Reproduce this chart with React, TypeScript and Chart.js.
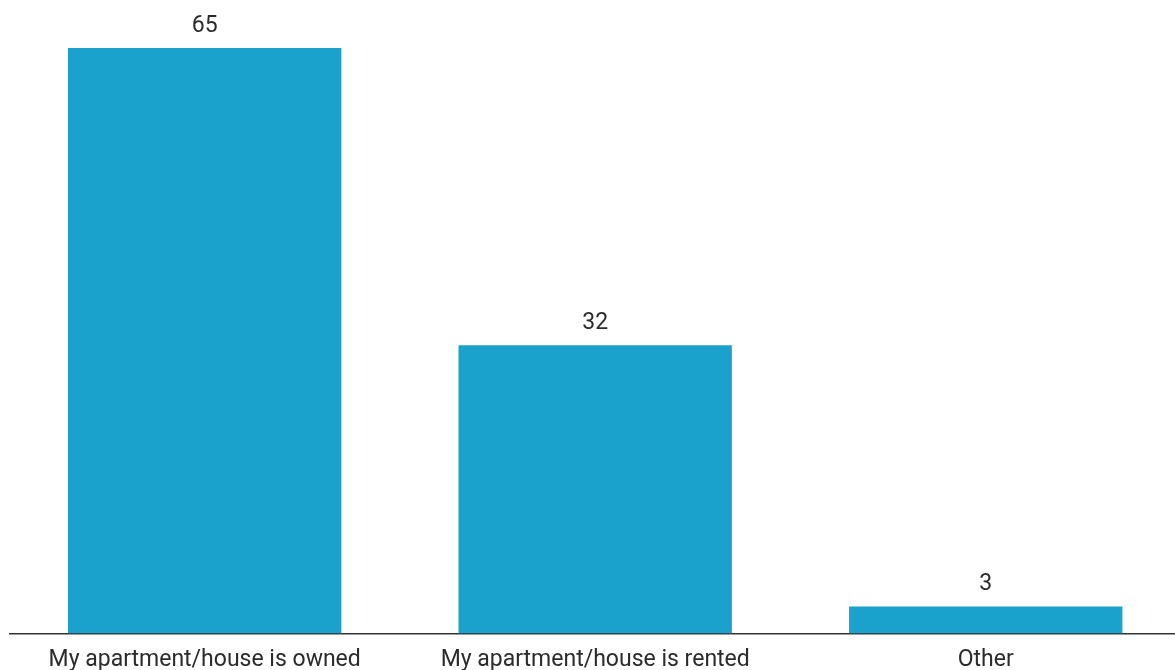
import React, { useEffect, useRef } from "react";
import { Chart, registerables } from "chart.js";

Chart.register(...registerables);

const categories = ["My apartment/house is owned", "My apartment/house is rented", "Other"];
const values = [65, 32, 3];

const BAR_COLOR = "#1aa1cc";
const TEXT_COLOR = "#2b2b2b";

const valueLabels = {
  id: "valueLabels",
  afterDatasetsDraw(chart: any) {
    const ctx = chart.ctx;
    const meta = chart.getDatasetMeta(0);
    ctx.save();
    ctx.font = "23px Roboto";
    ctx.fillStyle = TEXT_COLOR;
    ctx.textAlign = "center";
    ctx.textBaseline = "alphabetic";
    meta.data.forEach((bar: any, i: number) => {
      ctx.fillText(String(values[i]), bar.x, bar.y - 16);
    });
    ctx.restore();
  },
};

export default function App() {
  const ref = useRef<HTMLCanvasElement | null>(null);
  useEffect(() => {
    if (!ref.current) return;
    const chart = new Chart(ref.current, {
      type: "bar",
      data: {
        labels: categories,
        datasets: [
          {
            data: values,
            backgroundColor: BAR_COLOR,
            categoryPercentage: 1,
            barPercentage: 0.7,
          },
        ],
      },
      options: {
        animation: false,
        responsive: false,
        maintainAspectRatio: false,
        layout: { padding: { left: 9.4, right: 0, top: 3, bottom: 0 } },
        plugins: { legend: { display: false }, tooltip: { enabled: false } },
        scales: {
          y: { display: false, min: 0, max: 70 },
          x: {
            grid: { display: false, drawTicks: false },
            border: { display: true, color: "#333333", width: 1.5 },
            ticks: {
              color: TEXT_COLOR,
              font: { family: "Roboto", size: 23 },
              padding: 13,
              maxRotation: 0,
              autoSkip: false,
            },
            afterFit: (scale: any) => {
              scale.height = 36.5;
            },
          },
        },
      },
      plugins: [valueLabels],
    });
    return () => chart.destroy();
  }, []);
  return (
    <div
      style={{
        position: "fixed",
        left: 0,
        top: 0,
        width: 1175,
        height: 670,
        overflow: "hidden",
        background: "#fff",
      }}
    >
      <canvas ref={ref} width={1181} height={670} style={{ display: "block" }} />
    </div>
  );
}
